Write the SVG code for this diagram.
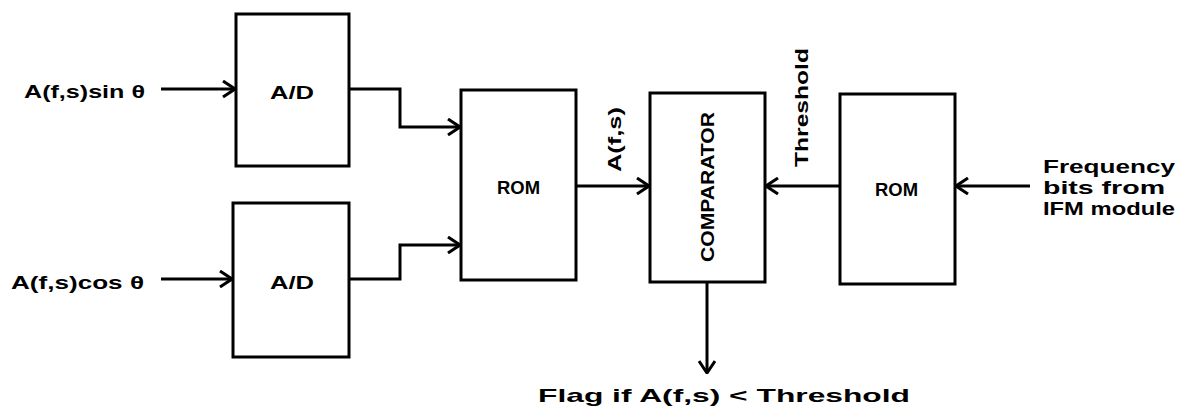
<svg xmlns="http://www.w3.org/2000/svg" width="1184" height="407" viewBox="0 0 1184 407">
  <style>
    .box { fill: #fff; stroke: #000; stroke-width: 3; }
    .wire { fill: none; stroke: #000; stroke-width: 3; stroke-linejoin: miter; }
    .t { font-family: "Liberation Sans", Arial, sans-serif; font-weight: bold; font-size: 19px; fill: #000; }
  </style>
  <defs>
    <marker id="arr" viewBox="0 0 14 18" refX="13" refY="9" markerWidth="14" markerHeight="18" markerUnits="userSpaceOnUse" orient="auto">
      <path d="M1,1 L13,9 L1,17" fill="none" stroke="#000" stroke-width="3"/>
    </marker>
  </defs>
  <rect width="1184" height="407" fill="#fff"/>

  <g id="connectors">
    <path class="wire" d="M161,89 L235,89" marker-end="url(#arr)"/>
    <path class="wire" d="M161,279 L232,279" marker-end="url(#arr)"/>
    <path class="wire" d="M350,89 L400,89 L400,127 L460,127" marker-end="url(#arr)"/>
    <path class="wire" d="M349,279 L400,279 L400,245 L460,245" marker-end="url(#arr)"/>
    <path class="wire" d="M576,186 L649,186" marker-end="url(#arr)"/>
    <path class="wire" d="M840,186 L766,186" marker-end="url(#arr)"/>
    <path class="wire" d="M1030,186 L956,186" marker-end="url(#arr)"/>
    <path class="wire" d="M707,282 L707,373" marker-end="url(#arr)"/>
  </g>

  <g id="in-sin">
    <text class="t" x="24" y="98" textLength="121" lengthAdjust="spacingAndGlyphs">A(f,s)sin θ</text>
  </g>
  <g id="in-cos">
    <text class="t" x="11" y="289" textLength="133" lengthAdjust="spacingAndGlyphs">A(f,s)cos θ</text>
  </g>

  <g id="ad-top">
    <rect class="box" x="236" y="14" width="113" height="152"/>
    <text class="t" x="270" y="99" textLength="44" lengthAdjust="spacingAndGlyphs">A/D</text>
  </g>
  <g id="ad-bottom">
    <rect class="box" x="233" y="203" width="116" height="154"/>
    <text class="t" x="270" y="289" textLength="44" lengthAdjust="spacingAndGlyphs">A/D</text>
  </g>

  <g id="rom-left">
    <rect class="box" x="461" y="90" width="115" height="190"/>
    <text class="t" x="497" y="194" textLength="43" lengthAdjust="spacingAndGlyphs">ROM</text>
  </g>

  <g id="label-afs">
    <text class="t" transform="translate(621,172) rotate(-90)" textLength="65" lengthAdjust="spacingAndGlyphs">A(f,s)</text>
  </g>

  <g id="comparator">
    <rect class="box" x="650" y="93" width="115" height="189"/>
    <text class="t" transform="translate(714,262) rotate(-90)" textLength="150" lengthAdjust="spacingAndGlyphs">COMPARATOR</text>
  </g>

  <g id="label-threshold">
    <text class="t" transform="translate(808,167) rotate(-90)" textLength="119" lengthAdjust="spacingAndGlyphs">Threshold</text>
  </g>

  <g id="rom-right">
    <rect class="box" x="840" y="94" width="115" height="190"/>
    <text class="t" x="875" y="196" textLength="43" lengthAdjust="spacingAndGlyphs">ROM</text>
  </g>

  <g id="freq-label">
    <text class="t" x="1043" y="173" textLength="132" lengthAdjust="spacingAndGlyphs">Frequency</text>
    <text class="t" x="1043" y="194" textLength="122" lengthAdjust="spacingAndGlyphs">bits from</text>
    <text class="t" x="1043" y="215" textLength="132" lengthAdjust="spacingAndGlyphs">IFM module</text>
  </g>

  <g id="flag-label">
    <text class="t" x="538" y="402" textLength="372" lengthAdjust="spacingAndGlyphs">Flag if A(f,s) &lt; Threshold</text>
  </g>
</svg>
